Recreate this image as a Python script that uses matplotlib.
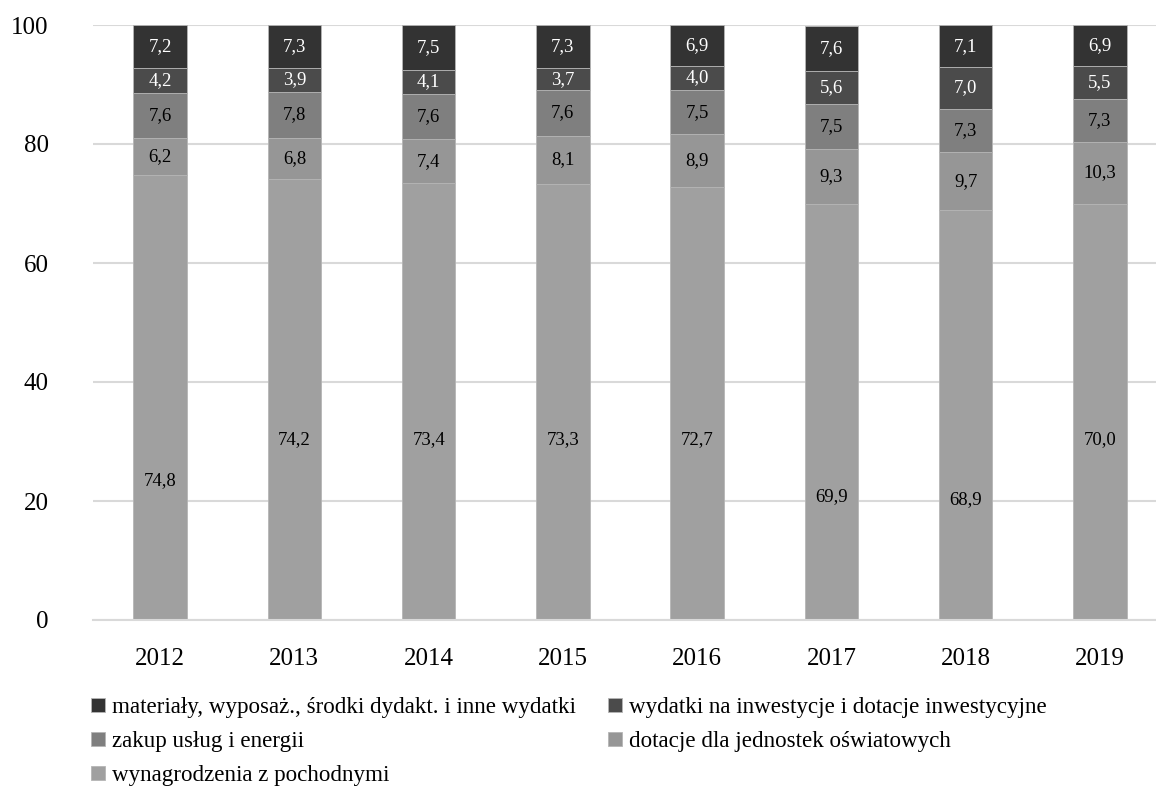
import numpy as np
import matplotlib
matplotlib.use("Agg")
import matplotlib.pyplot as plt

plt.rcParams['font.family'] = ['Liberation Serif', 'DejaVu Serif']

years = ["2012", "2013", "2014", "2015", "2016", "2017", "2018", "2019"]

wynagrodzenia = [74.8, 74.2, 73.4, 73.3, 72.7, 69.9, 68.9, 70.0]
dotacje = [6.2, 6.8, 7.4, 8.1, 8.9, 9.3, 9.7, 10.3]
zakup = [7.6, 7.8, 7.6, 7.6, 7.5, 7.5, 7.3, 7.3]
inwestycje = [4.2, 3.9, 4.1, 3.7, 4.0, 5.6, 7.0, 5.5]
materialy = [7.2, 7.3, 7.5, 7.3, 6.9, 7.6, 7.1, 6.9]

series_names = [
    "wynagrodzenia z pochodnymi",
    "dotacje dla jednostek oświatowych",
    "zakup usług i energii",
    "wydatki na inwestycje i dotacje inwestycyjne",
    "materiały, wyposaż., środki dydakt. i inne wydatki",
]

# label heights for the big bottom segment (moved by hand in the original)
wyn_label_y = [23.5, 30.3, 30.3, 30.3, 30.3, 20.8, 20.2, 30.3]

colors = ["#a0a0a0", "#969696", "#7f7f7f", "#4b4b4b", "#333333"]
text_colors = ["black", "black", "black", "white", "white"]

fig = plt.figure(figsize=(11.56, 7.89), dpi=100)
ax = fig.add_axes([93 / 1156, 1 - 620 / 789, (1167 - 93) / 1156, (620 - 25) / 789])

x = np.arange(len(years))
bottom = np.zeros(len(years))
data = [wynagrodzenia, dotacje, zakup, inwestycje, materialy]
handles = []
for k, vals in enumerate(data):
    vals = np.array(vals)
    b = ax.bar(x, vals, 0.4, bottom=bottom, color=colors[k],
               edgecolor="#b5b5b5", linewidth=0.6, zorder=2, label=series_names[k])
    handles.append(b)
    for i, v in enumerate(vals):
        if k == 0:
            yy = wyn_label_y[i]
        else:
            yy = bottom[i] + v / 2
        ax.text(x[i], yy, f"{v:.1f}".replace(".", ","), ha="center", va="center",
                fontsize=13.5, color=text_colors[k], zorder=3)
    bottom = bottom + vals

ax.set_xlim(-0.5, len(years) - 0.5)
ax.set_ylim(0, 100)
ax.set_yticks([0, 20, 40, 60, 80, 100])
ax.set_xticks(x)
ax.set_xticklabels(years)
ax.tick_params(axis="both", length=0, labelsize=18)
ax.tick_params(axis="x", pad=20)
ax.tick_params(axis="y", pad=32)
ax.grid(axis="y", color="#d9d9d9", linewidth=1.5, zorder=0)
for s in ["top", "right", "left"]:
    ax.spines[s].set_visible(False)
ax.spines["bottom"].set_color("#d9d9d9")
ax.spines["bottom"].set_linewidth(1.5)

order = [4, 2, 0, 3, 1]
fig.legend([handles[i] for i in order], [series_names[i] for i in order],
           loc="upper left", bbox_to_anchor=(91 / 1156, 1 - 697 / 789),
           ncol=2, frameon=False, fontsize=16.6, handlelength=0.6, handleheight=0.6,
           handletextpad=0.3, columnspacing=1.4, labelspacing=0.57,
           borderpad=0, borderaxespad=0)

fig.savefig("out.png", dpi=100)
